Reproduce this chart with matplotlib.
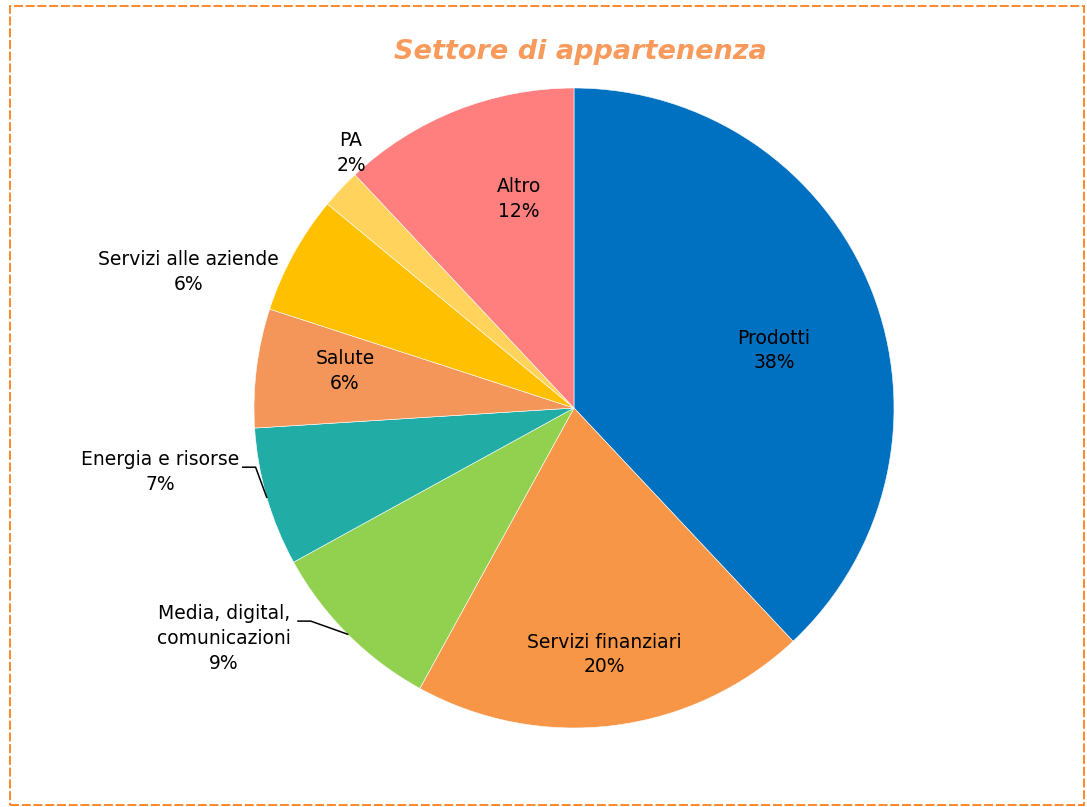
import numpy as np
import matplotlib
matplotlib.use("Agg")
import matplotlib.pyplot as plt
from matplotlib.patches import Rectangle

categories = ["Prodotti", "Servizi finanziari", "Media, digital,\ncomunicazioni",
              "Energia e risorse", "Salute", "Servizi alle aziende", "PA", "Altro"]
values = [38, 20, 9, 7, 6, 6, 2, 12]
colors = ["#0070C0", "#F79646", "#92D050", "#21ADA5", "#F4955A", "#FFC000", "#FFD35C", "#FF7F7F"]

# label positions (data units, radius = 1)
label_pos = [(0.625, 0.18), (0.094, -0.77), (-1.094, -0.72), (-1.294, -0.20),
             (-0.716, 0.116), (-1.206, 0.425), (-0.697, 0.797), (-0.172, 0.653)]
leaders = {2: (-0.8625, -0.666), 3: (-1.035, -0.185)}

plt.rcParams['font.family'] = ['DejaVu Sans']

W, H = 1087, 807
fig = plt.figure(figsize=(W / 100, H / 100), dpi=100)
cx, cy, R = 574, 408, 320
ax = fig.add_axes([(cx - R) / W, (H - cy - R) / H, 2 * R / W, 2 * R / H])
ax.set_aspect('equal')
ax.axis('off')

wedges, _ = ax.pie(values, colors=colors, startangle=90, counterclock=False,
                   radius=1, wedgeprops=dict(linewidth=0.4, edgecolor='white'))
ax.set_xlim(-1, 1)
ax.set_ylim(-1, 1)

total = sum(values)
cum = 0
for i, (cat, v) in enumerate(zip(categories, values)):
    mid = (cum + v / 2) / total * 2 * np.pi
    cum += v
    lx, ly = label_pos[i]
    ax.text(lx, ly, f"{cat}\n{v}%", ha='center', va='center', fontsize=13.5,
            color='black', linespacing=1.38, clip_on=False)
    if i in leaders:
        ex, ey = np.sin(mid), np.cos(mid)
        sx, sy = leaders[i]
        ax.plot([sx, sx + 0.04, ex], [sy, sy, ey], color='black', lw=1.1, clip_on=False)

fig.text(580 / W, 1 - 52 / H, "Settore di appartenenza", ha='center', va='center',
         fontsize=19.5, fontweight='bold', fontstyle='italic', color='#F79A5C')

fig.patches.append(Rectangle((10 / W, 2 / H), 1074 / W, 799 / H, transform=fig.transFigure,
                             fill=False, edgecolor='#FF7F1A', lw=1.3, linestyle=(0, (5, 1.5))))

fig.savefig("out.png", dpi=100, facecolor='white')
